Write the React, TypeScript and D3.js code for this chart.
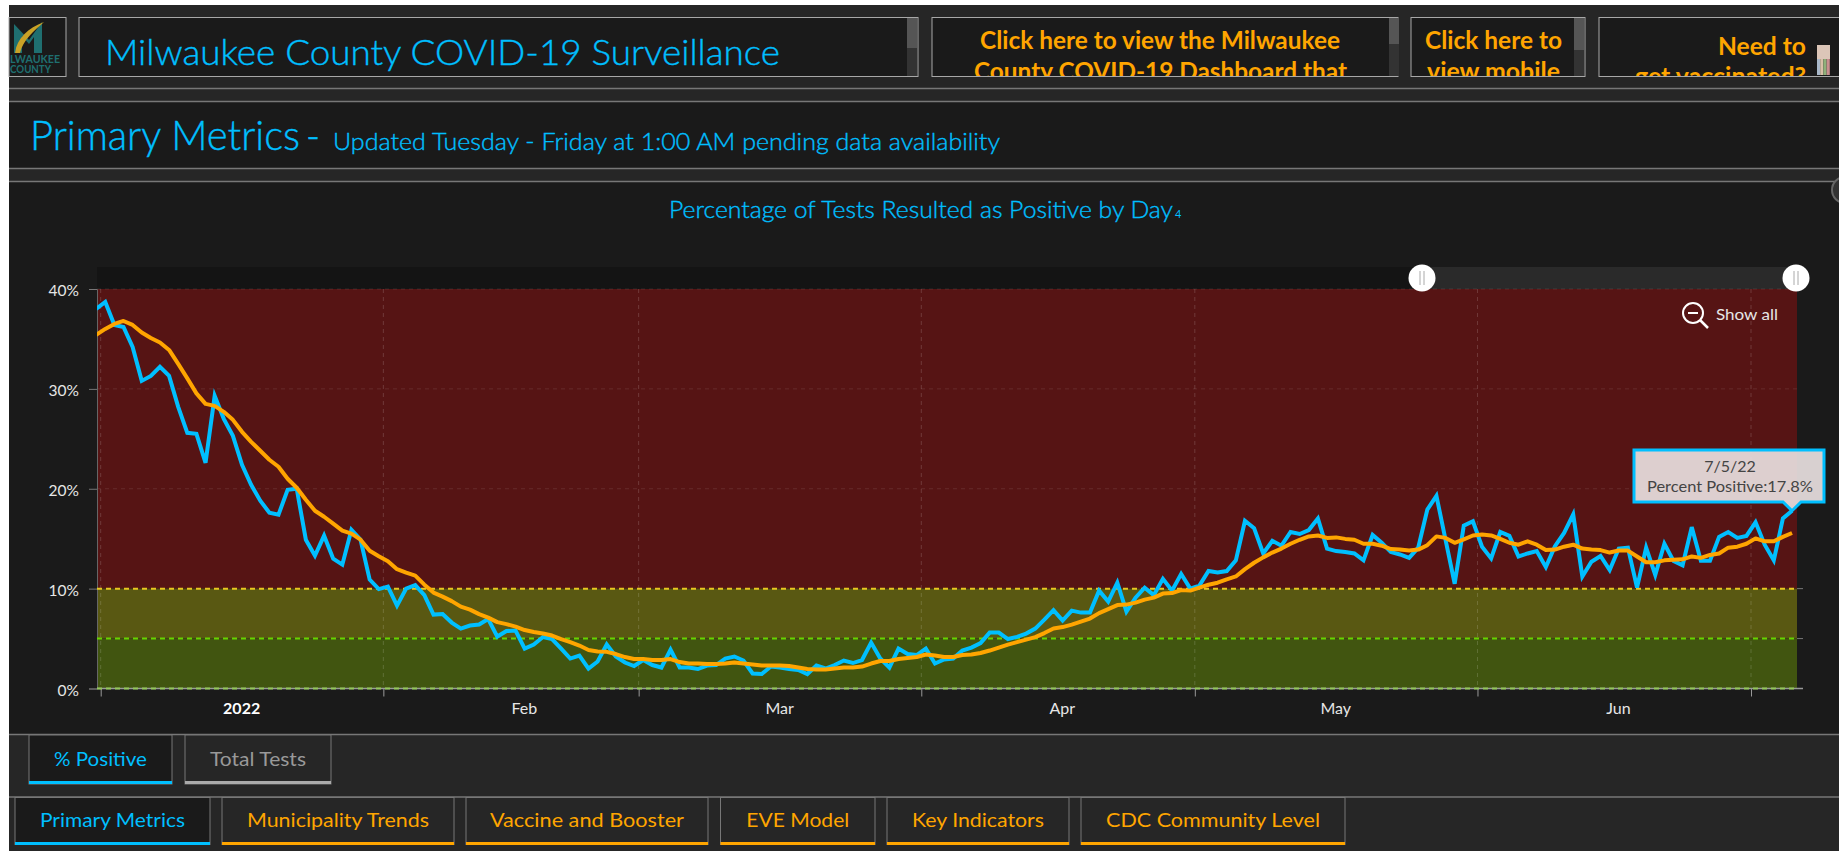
import React, { useRef, useEffect } from "react";
import * as d3 from "d3";

// daily values, Dec 31 2021 through Jul 5 2022
const startDay = Date.UTC(2021, 11, 31, 12);

const percentPositive = [
  38.0,
  38.7, 36.4, 36.2, 34.2, 30.8, 31.3, 32.2, 31.3, 28.2, 25.6,
  25.5, 22.6, 29.3, 27.0, 25.3, 22.4, 20.4, 18.8, 17.6, 17.4,
  19.9, 20.0, 14.9, 13.3, 15.3, 13.0, 12.4, 15.9, 14.9, 10.9,
  9.95, 10.2, 8.3, 10.0, 10.35, 9.35, 7.4, 7.45, 6.6, 6.0,
  6.3, 6.4, 6.95, 5.2, 5.75, 5.8, 4.0, 4.4, 5.15, 4.95,
  4.0, 3.0, 3.3, 2.0, 2.7, 4.4, 3.2, 2.6, 2.25, 2.85,
  2.35, 2.1, 3.9, 2.1, 2.1, 1.95, 2.3, 2.35, 3.0, 3.2,
  2.8, 1.5, 1.45, 2.2, 2.1, 1.95, 1.85, 1.45, 2.3, 2.0,
  2.35, 2.8, 2.55, 2.85, 4.6, 3.0, 2.1, 4.0, 3.45, 3.35,
  4.0, 2.5, 2.9, 3.0, 3.8, 4.1, 4.55, 5.6, 5.6, 4.95,
  5.17, 5.5, 6.0, 6.9, 7.85, 6.8, 7.8, 7.6, 7.6, 9.8,
  8.7, 10.59, 7.7, 9.1, 10.1, 9.35, 10.98, 9.8, 11.47, 10.0,
  10.3, 11.76, 11.61, 11.76, 12.83, 16.79, 16.06, 13.52, 14.79, 14.3,
  15.67, 15.47, 15.86, 17.03, 14.01, 13.76, 13.66, 13.52, 12.83, 15.37,
  14.59, 13.66, 13.42, 13.08, 14.1, 17.91, 19.28, 14.89, 10.49, 16.3,
  16.74, 14.2, 13.03, 15.67, 15.28, 13.22, 13.52, 13.76, 12.15, 14.25,
  15.57, 17.43, 11.22, 12.69, 13.27, 11.86, 14.01, 14.1, 10.1, 14.1,
  11.37, 14.49, 12.78, 12.34, 16.16, 12.78, 12.78, 15.18, 15.67, 15.08,
  15.28, 16.64, 14.4, 12.83, 17.03, 17.8,
];

const movingAverage = [
  35.4,
  36.0, 36.5, 36.8, 36.4, 35.65, 35.1, 34.65, 33.9, 32.5, 31.05,
  29.55, 28.5, 28.3, 27.7, 26.9, 25.7, 24.7, 23.8, 22.9, 22.2,
  21.0, 20.1, 18.9, 17.8, 17.2, 16.5, 15.8, 15.5, 14.9, 13.8,
  13.25, 12.75, 11.95, 11.6, 11.3, 10.4, 9.6, 9.2, 8.75, 8.2,
  7.9, 7.45, 7.1, 6.65, 6.45, 6.2, 5.85, 5.65, 5.5, 5.3,
  4.95, 4.65, 4.3, 3.85, 3.7, 3.67, 3.45, 3.15, 2.95, 2.95,
  2.85, 2.85, 2.95, 2.65, 2.5, 2.5, 2.45, 2.45, 2.5, 2.6,
  2.5, 2.4, 2.3, 2.3, 2.3, 2.25, 2.1, 1.95, 1.9, 1.9,
  2.0, 2.1, 2.1, 2.2, 2.5, 2.75, 2.75, 2.95, 3.05, 3.15,
  3.4, 3.3, 3.15, 3.15, 3.35, 3.4, 3.55, 3.8, 4.1, 4.4,
  4.65, 4.9, 5.15, 5.55, 6.0, 6.15, 6.4, 6.7, 7.0, 7.55,
  7.95, 8.35, 8.4, 8.6, 8.9, 9.1, 9.5, 9.55, 9.85, 9.8,
  10.1, 10.39, 10.59, 10.93, 11.22, 11.95, 12.59, 13.13, 13.61, 14.01,
  14.49, 14.89, 15.23, 15.32, 15.08, 15.13, 14.98, 14.89, 14.49, 14.49,
  14.3, 13.96, 13.91, 13.81, 13.91, 14.35, 15.23, 15.08, 14.59, 14.93,
  15.32, 15.42, 15.32, 14.98, 14.59, 14.4, 14.74, 14.4, 13.86, 13.91,
  14.2, 14.4, 14.01, 13.91, 13.86, 13.61, 13.81, 13.81, 13.22, 12.64,
  12.64, 12.83, 12.88, 12.93, 13.22, 13.08, 13.37, 13.52, 14.1, 14.2,
  14.49, 15.03, 14.74, 14.74, 15.18, 15.57,
];

const yTicks = [0, 10, 20, 30, 40];
const monthStarts = [0, 1, 2, 3, 4, 5, 6];
const monthLabels = ["2022", "Feb", "Mar", "Apr", "May", "Jun"];
const chartTabs = ["% Positive", "Total Tests"];
const pageTabs = ["Primary Metrics", "Municipality Trends", "Vaccine and Booster", "EVE Model", "Key Indicators", "CDC Community Level"];

const CYAN = "#00bfff";
const ORANGE = "#ffa500";
const FONT = "Lato, 'Open Sans', sans-serif";

const App = () => {
  const svgRef = useRef<SVGSVGElement>(null);

  useEffect(() => {
    const svg = d3.select(svgRef.current);
    svg.selectAll("*").remove();

    const rect = (p: any, x: number, y: number, w: number, h: number, fill: string, stroke?: string) =>
      p.append("rect").attr("x", x).attr("y", y).attr("width", w).attr("height", h)
        .attr("fill", fill).attr("stroke", stroke || "none");

    const label = (p: any, str: string, x: number, y: number, size: number, color: string, width?: number, anchor = "start", weight = 400) => {
      const t = p.append("text").attr("x", x).attr("y", y).attr("fill", color)
        .attr("font-size", size).attr("font-family", FONT).attr("font-weight", weight)
        .attr("text-anchor", anchor).text(str);
      if (width) t.attr("textLength", width).attr("lengthAdjust", "spacingAndGlyphs");
      // the light cut renders too faint on the dark panels
      if (weight === 300) t.attr("stroke", color).attr("stroke-width", 0.4);
      return t;
    };

    const defs = svg.append("defs");
    const clip = (id: string, x: number, y: number, w: number, h: number) =>
      defs.append("clipPath").attr("id", id).append("rect").attr("x", x).attr("y", y).attr("width", w).attr("height", h);
    clip("clip-plot", 97, 270, 1720, 425);
    clip("clip-boxes", 0, 17, 1839, 59);

    // page chrome
    rect(svg, 0, 0, 1839, 851, "#ffffff");
    rect(svg, 9, 5, 1830, 846, "#262626");
    rect(svg, 9, 102, 1830, 66, "#1a1a1a");
    rect(svg, 9, 182, 1830, 553, "#1a1a1a");
    [88.5, 101.5, 168.5, 181.5, 734.5, 797].forEach(y => {
      svg.append("line").attr("x1", 9).attr("x2", 1839).attr("y1", y).attr("y2", y)
        .attr("stroke", "#777").attr("stroke-width", 1.5);
    });

    // header boxes
    const boxes = [[9, 57], [79, 839], [932, 466], [1411, 174], [1599, 250]];
    boxes.forEach(([x, w]) => rect(svg, x, 17.5, w, 59, "#1a1a1a", "#a8a8a8"));
    [[907, 30], [1389, 26], [1574, 32]].forEach(([x, h]) => {
      rect(svg, x, 18, 10, 58, "#333");
      rect(svg, x, 18, 10, h, "#555");
    });

    // logo
    const logo = svg.append("g").attr("clip-path", "url(#clip-boxes)");
    logo.append("path").attr("d", "M14 53V24L29 40L42 22V53H34V37L29 44L22 36V53Z").attr("fill", "#1f6f70");
    logo.append("path").attr("d", "M15 53C17 38 28 28 44 22C34 31 23 40 20 53Z").attr("fill", "#c9a227");
    label(logo, "LWAUKEE", 10, 63, 11, "#1f6f70", 50, "start", 700);
    label(logo, "COUNTY", 10, 73, 11, "#1f6f70", 41, "start", 700);

    const boxText = svg.append("g").attr("clip-path", "url(#clip-boxes)");
    label(boxText, "Milwaukee County COVID-19 Surveillance", 105, 65, 36, CYAN, 675, "start", 300);
    label(boxText, "Click here to view the Milwaukee", 980, 49, 24, ORANGE, 360, "start", 700);
    label(boxText, "County COVID-19 Dashboard that", 974, 79.5, 24, ORANGE, 373, "start", 700);
    label(boxText, "Click here to", 1425, 49, 24, ORANGE, 137, "start", 700);
    label(boxText, "view mobile", 1427, 79.5, 24, ORANGE, 133, "start", 700);
    label(boxText, "Need to", 1718, 54.5, 24, ORANGE, 88, "start", 700);
    label(boxText, "get vaccinated?", 1635, 84.5, 24, ORANGE, 171, "start", 700);
    const swatch = d3.scaleOrdinal<number, string>().domain([0, 1, 2, 3]).range(["#a9b8c9", "#d8c0a8", "#8fb07a", "#c98f8f"]);
    rect(svg, 1817, 45, 13, 14, "#dcc6b8");
    [0, 1, 2, 3].forEach(i => rect(svg, 1817 + i * 3.2, 59, 3.2, 16, swatch(i)));

    label(svg, "Primary Metrics", 30, 150, 41, CYAN, 270, "start", 300);
    label(svg, "-", 306, 150, 41, CYAN, 14, "start", 300);
    label(svg, "Updated Tuesday - Friday at 1:00 AM pending data availability", 333, 150, 24, CYAN, 667, "start", 300);
    label(svg, "Percentage of Tests Resulted as Positive by Day", 669, 218, 24, CYAN, 504, "start", 300);
    label(svg, "4", 1175, 218, 11, CYAN);

    // corner menu button
    svg.append("circle").attr("cx", 1845).attr("cy", 190).attr("r", 13)
      .attr("fill", "#333").attr("stroke", "#666").attr("stroke-width", 2);

    // scales
    const x = d3.scaleUtc()
      .domain([Date.UTC(2022, 0, 1), Date.UTC(2022, 6, 1)])
      .range([100.7, 1751]);
    const y = d3.scaleLinear().domain([0, 40]).range([688.5, 289]);
    const day = (i: number) => new Date(d3.utcDay.offset(new Date(startDay), i));

    const plotLeft = 97;
    const plotRight = 1797;

    // zoom strip
    rect(svg, plotLeft, 267, plotRight - plotLeft, 22, "#141414");
    rect(svg, 1422, 267, plotRight - 1422, 22, "#2a2a2a");

    // risk bands
    const bands = [
      { from: 40, to: 10, fill: "#561414" },
      { from: 10, to: 5, fill: "#595812" },
      { from: 5, to: 0, fill: "#415510" },
    ];
    bands.forEach(b => rect(svg, plotLeft, y(b.from), plotRight - plotLeft, y(b.to) - y(b.from), b.fill));

    // grid
    const monthDates = monthStarts.map(m => new Date(Date.UTC(2022, m, 1)));
    const grid = svg.append("g");
    monthDates.forEach(d => {
      grid.append("line").attr("x1", x(d)).attr("x2", x(d)).attr("y1", 289).attr("y2", 688)
        .attr("stroke", "rgba(255,255,255,0.16)").attr("stroke-dasharray", "4 4");
    });
    [20, 30, 40].forEach(v => {
      grid.append("line").attr("x1", plotLeft).attr("x2", plotRight).attr("y1", y(v)).attr("y2", y(v))
        .attr("stroke", "rgba(255,255,255,0.1)").attr("stroke-dasharray", "4 4");
    });

    // axes
    const yAxis = svg.append("g").attr("transform", `translate(${plotLeft},0)`)
      .call(d3.axisLeft(y).tickValues(yTicks).tickSize(8).tickPadding(10).tickFormat((d: any) => `${d}%`));
    yAxis.select(".domain").attr("stroke", "#666");
    yAxis.selectAll(".tick line").attr("stroke", "#777");
    yAxis.selectAll("text").attr("fill", "#e6e6e6").attr("font-size", 15.5).attr("font-family", FONT).attr("dy", "0.42em");

    const xAxis = svg.append("g").attr("transform", "translate(0,688.5)")
      .call(d3.axisBottom(x).tickValues(monthDates).tickSize(8).tickFormat(() => ""));
    xAxis.select(".domain").remove();
    xAxis.selectAll(".tick line").attr("stroke", "#999");

    monthLabels.forEach((m, i) => {
      label(svg, m, x(new Date(Date.UTC(2022, i, 16, 11))), 714, 16, i === 0 ? "#ffffff" : "#e6e6e6", undefined, "middle", i === 0 ? 700 : 400);
    });

    // threshold lines
    [
      { v: 10, color: "#e8c820", tick: "#777" },
      { v: 5, color: "#66d400", tick: "#777" },
      { v: 0, color: "#94c85a", tick: "#999" },
    ].forEach(t => {
      if (t.v === 0) {
        svg.append("line").attr("x1", plotLeft).attr("x2", 1803).attr("y1", y(0)).attr("y2", y(0)).attr("stroke", "#999").attr("stroke-width", 1.5);
      } else {
        svg.append("line").attr("x1", plotRight).attr("x2", 1803).attr("y1", y(t.v)).attr("y2", y(t.v)).attr("stroke", t.tick);
      }
      svg.append("line").attr("x1", plotLeft).attr("x2", plotRight).attr("y1", y(t.v)).attr("y2", y(t.v))
        .attr("stroke", t.color).attr("stroke-width", 2).attr("stroke-dasharray", "5 4");
    });

    // series
    const line = d3.line<number>().x((_, i) => x(day(i))).y(d => y(d));
    const series = svg.append("g").attr("clip-path", "url(#clip-plot)");
    series.append("path").attr("d", line(percentPositive)).attr("fill", "none")
      .attr("stroke", CYAN).attr("stroke-width", 4).attr("stroke-linejoin", "miter");
    series.append("path").attr("d", line(movingAverage)).attr("fill", "none")
      .attr("stroke", ORANGE).attr("stroke-width", 4).attr("stroke-linejoin", "round");

    // zoom handles
    [1422, 1796].forEach(cx => {
      svg.append("circle").attr("cx", cx).attr("cy", 278).attr("r", 13.5).attr("fill", "#fff");
      [-2, 2].forEach(dx => {
        svg.append("line").attr("x1", cx + dx).attr("x2", cx + dx).attr("y1", 271).attr("y2", 285).attr("stroke", "#aaa");
      });
    });

    // show all
    const icon = svg.append("g").attr("fill", "none").attr("stroke", "#fff").attr("stroke-width", 2);
    icon.append("circle").attr("cx", 1693).attr("cy", 313).attr("r", 10);
    icon.append("line").attr("x1", 1688).attr("x2", 1698).attr("y1", 313).attr("y2", 313);
    icon.append("line").attr("x1", 1700).attr("x2", 1708).attr("y1", 320).attr("y2", 328).attr("stroke-width", 2.5);
    label(svg, "Show all", 1716, 320, 16, "#e6e6e6", 62);

    // tooltip for the last point
    const lastX = x(day(percentPositive.length - 1));
    const lastY = y(percentPositive[percentPositive.length - 1]);
    const tip = svg.append("g");
    tip.append("path")
      .attr("d", `M1634 450H1824V502H${lastX + 9}L${lastX} ${lastY}L${lastX - 9} 502H1634Z`)
      .attr("fill", "rgba(232,224,224,0.92)").attr("stroke", CYAN).attr("stroke-width", 3);
    label(tip, "7/5/22", 1730, 472, 16, "#444", undefined, "middle");
    label(tip, "Percent Positive:17.8%", 1730, 492, 16, "#444", 166, "middle");

    // chart tabs
    const chartEdges = [[29, 143, 93], [185, 146, 96]];
    chartTabs.forEach((t, i) => {
      const [tx, tw, textW] = chartEdges[i];
      const on = i === 0;
      rect(svg, tx, 735, tw, 49, on ? "#1a1a1a" : "#262626", "#777");
      rect(svg, tx, 781, tw, 3, on ? CYAN : "#aaa");
      label(svg, t, tx + tw / 2, 766, 20, on ? CYAN : "#999", textW, "middle");
    });

    // page tabs
    const pageEdges = [[15, 195, 145], [222, 232, 182], [466, 242, 194], [720.5, 154.5, 103], [887, 182, 132], [1081, 264, 214]];
    pageTabs.forEach((t, i) => {
      const [tx, tw, textW] = pageEdges[i];
      const on = i === 0;
      rect(svg, tx, 797.5, tw, 47, on ? "#1a1a1a" : "#262626", "#777");
      rect(svg, tx, 842, tw, 3, on ? CYAN : ORANGE);
      label(svg, t, tx + tw / 2, 827, 20, on ? CYAN : ORANGE, textW, "middle");
    });
  }, []);

  return <svg ref={svgRef} width={1839} height={851} style={{ position: "absolute", left: 0, top: 0 }}></svg>;
};

export default App;
